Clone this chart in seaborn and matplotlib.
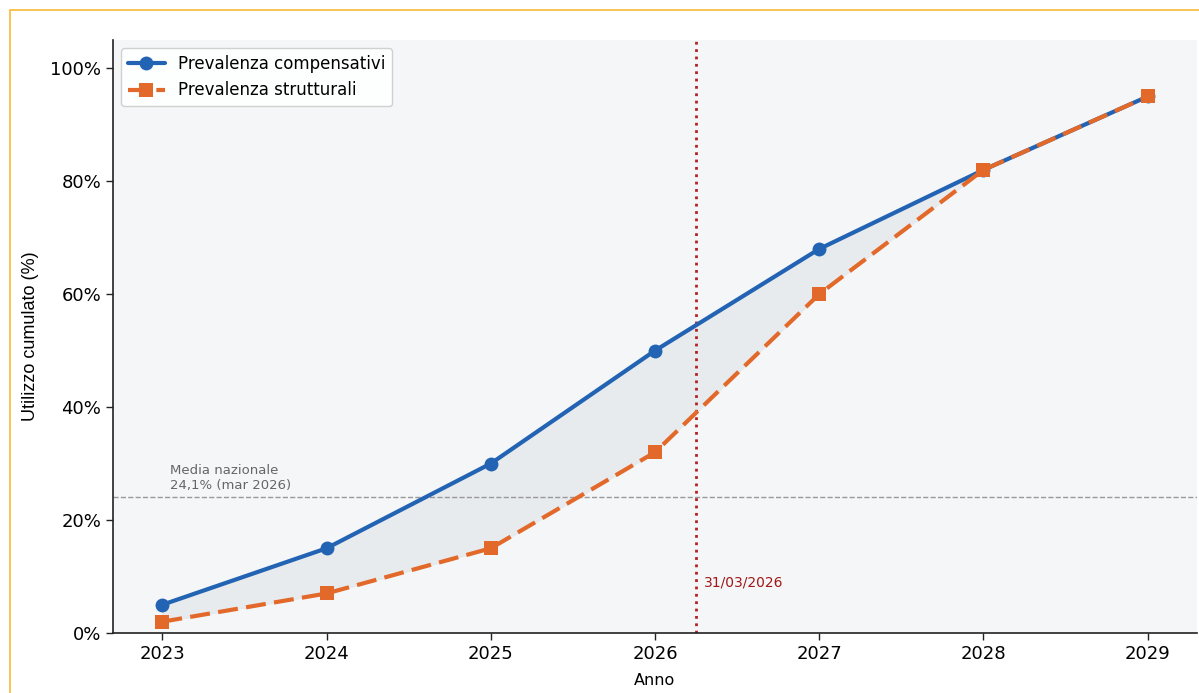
import seaborn as sns
import matplotlib.pyplot as plt
import matplotlib.patches as mpatches
import pandas as pd

# Dati: utilizzo cumulato per anno
anni = [2023, 2024, 2025, 2026, 2027, 2028, 2029]
compensativi = [5, 15, 30, 50, 68, 82, 95]
strutturali = [2, 7, 15, 32, 60, 82, 95]
media_nazionale = 24.1
data_riferimento = 2026.25
yticks = [0, 20, 40, 60, 80, 100]
ytick_labels = ['0%', '20%', '40%', '60%', '80%', '100%']

df = pd.DataFrame({'anno': anni, 'comp': compensativi, 'strut': strutturali})

sns.set_style('white')
plt.rcParams['font.family'] = ['DejaVu Sans']
plt.rcParams['text.color'] = 'black'
plt.rcParams['axes.labelcolor'] = 'black'
plt.rcParams['xtick.color'] = 'black'
plt.rcParams['ytick.color'] = 'black'

fig = plt.figure(figsize=(11.99, 6.93), dpi=100)
ax = fig.add_axes([113 / 1199, 1 - 633 / 693, (1197 - 113) / 1199, (633 - 40) / 693])
ax.set_facecolor('#f5f6f7')

# bordo arancione
fig.patches.append(mpatches.Rectangle((10 / 1199, -0.05), 1.1, 1 - 10 / 693 + 0.05,
                                      transform=fig.transFigure, fill=False,
                                      edgecolor='#f9b935', linewidth=1.2))

ax.fill_between(df['anno'], df['strut'], df['comp'], color='#e3e7eb', alpha=0.7, zorder=1)

sns.lineplot(data=df, x='anno', y='comp', ax=ax, color='#2263b3', marker='o',
             markersize=10, markeredgewidth=0, linewidth=3,
             label='Prevalenza compensativi', zorder=3)
sns.lineplot(data=df, x='anno', y='strut', ax=ax, color='#e2692a', marker='s',
             markersize=10, markeredgewidth=0, linewidth=3, linestyle=(0, (4.8, 2)),
             label='Prevalenza strutturali', zorder=4)

ax.axhline(media_nazionale, color='#999999', linestyle='--', linewidth=1, zorder=2)
ax.text(2023.05, media_nazionale + 0.8, 'Media nazionale\n24,1% (mar 2026)',
        fontsize=9.5, color='#666666', va='bottom', ha='left')

ax.axvline(data_riferimento, color='#b22222', linestyle=':', linewidth=2, zorder=2)
ax.text(data_riferimento + 0.05, 8.9, '31/03/2026', fontsize=10, color='#a01818',
        va='center', ha='left')

ax.set_xlim(2022.7, 2029.3)
ax.set_ylim(0, 105)
ax.set_xticks(anni)
ax.set_xticklabels([str(a) for a in anni], fontsize=13)
ax.set_yticks(yticks)
ax.set_yticklabels(ytick_labels, fontsize=13)
ax.tick_params(axis='both', length=5, width=1, color='#222222', bottom=True, left=True)
ax.set_xlabel('Anno', fontsize=11.5, labelpad=7)
ax.set_ylabel('Utilizzo cumulato (%)', fontsize=13, labelpad=8,
              family=['Liberation Sans', 'DejaVu Sans'])

for s in ['top', 'right']:
    ax.spines[s].set_visible(False)
for s in ['left', 'bottom']:
    ax.spines[s].set_color('#222222')
    ax.spines[s].set_linewidth(1.2)

ax.legend(loc='upper left', fontsize=12, frameon=True, framealpha=0.9,
          edgecolor='#cccccc', borderpad=0.4, handlelength=2.2)

fig.savefig('out.png', dpi=100)
